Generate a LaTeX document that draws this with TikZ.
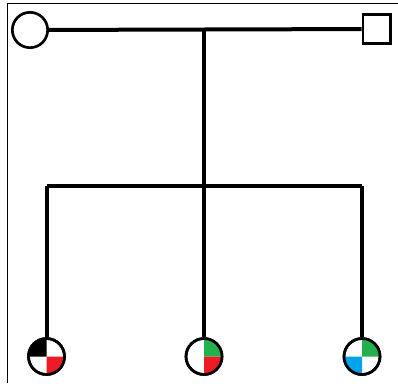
\documentclass[tikz,border=0pt]{standalone}
\usetikzlibrary{calc}
\definecolor{pred}{HTML}{ED1C24}
\definecolor{pgreen}{HTML}{22B14C}
\definecolor{pblue}{HTML}{00A2E8}
\begin{document}
\begin{tikzpicture}[x=0.75pt,y=-0.75pt,
  link/.style={line width=3pt},
  frameline/.style={line width=1.2pt},
  person/.style={circle,draw,line width=2pt,minimum size=26.5pt,inner sep=0pt,fill=white},
  male/.style={rectangle,draw,line width=2pt,minimum width=20.5pt,minimum height=22pt,inner sep=0pt,fill=white},
  child/.style={circle,draw,line width=2pt,minimum size=27pt,inner sep=0pt}]
\useasboundingbox (0,0) rectangle (398,383);
\fill[white] (0,0) rectangle (398,383);
\draw[frameline] (7.5,383) -- (7.5,3.5) -- (398,3.5);
% parents
\node[person] (mom) at (30,30) {};
\node[male] (dad) at (376.5,29) {};
\coordinate (mid) at (204,30);
\coordinate (sib) at (204,185.5);
\coordinate (sl) at (46.5,185.5);
\coordinate (sr) at (362,185.5);
\draw[link] (mom) -- (dad);
\draw[link] (mid) -- (sib);
\draw[link] (sl) -- (sr);
% children
\node[child] (c1) at (46.5,356.5) {};
\node[child] (c2) at (204,356.5) {};
\node[child] (c3) at (362,356.5) {};
\draw[link] (sl) -- (c1.north);
\draw[link] (sib) -- (c2.north);
\draw[link] (sr) -- (c3.north);
% quadrant fills (y axis is flipped: angles run clockwise on screen)
\def\r{18}
\fill[black] (c1.center) -- ++(-\r,0) arc[start angle=180,end angle=270,radius=\r] -- cycle;
\fill[pred] (c1.center) -- ++(\r,0) arc[start angle=0,end angle=90,radius=\r] -- cycle;
\fill[pgreen] (c2.center) -- ++(\r,0) arc[start angle=0,end angle=-90,radius=\r] -- cycle;
\fill[pred] (c2.center) -- ++(\r,0) arc[start angle=0,end angle=90,radius=\r] -- cycle;
\fill[pgreen] (c3.center) -- ++(\r,0) arc[start angle=0,end angle=-90,radius=\r] -- cycle;
\fill[pblue] (c3.center) -- ++(-\r,0) arc[start angle=180,end angle=90,radius=\r] -- cycle;
\draw[line width=2pt] (c1) circle[radius=\r];
\draw[line width=2pt] (c2) circle[radius=\r];
\draw[line width=2pt] (c3) circle[radius=\r];
\end{tikzpicture}
\end{document}
